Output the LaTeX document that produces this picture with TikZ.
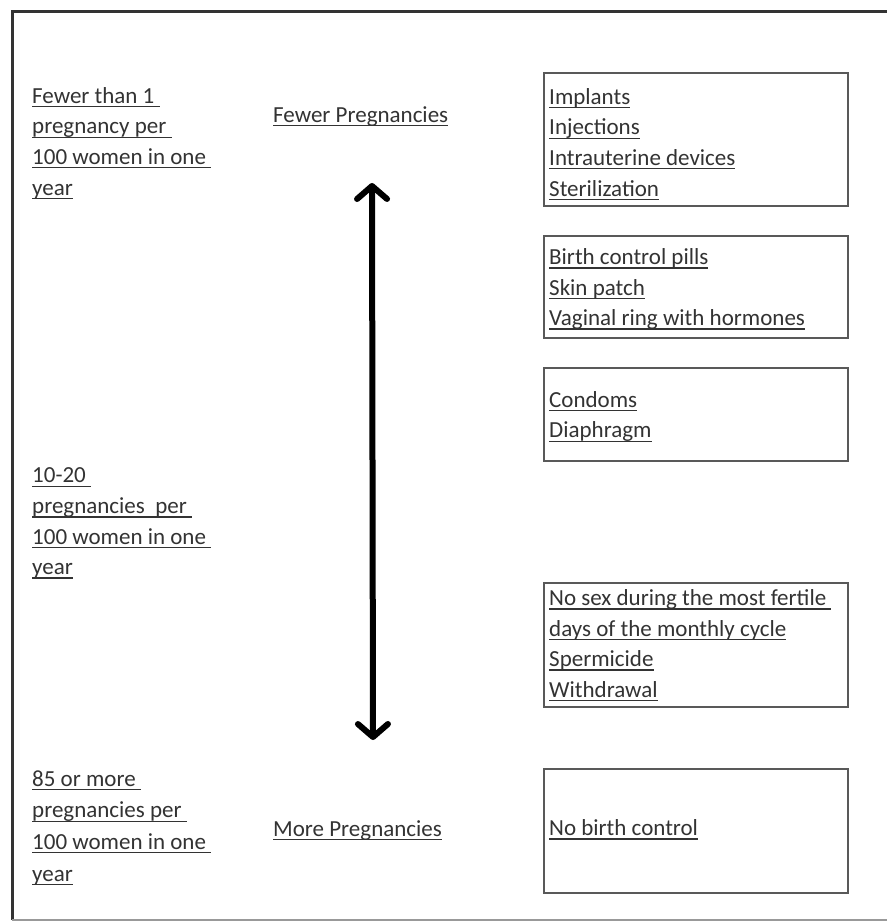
\documentclass[tikz,border=0pt]{standalone}
\usepackage{fontspec}
\setmainfont{Carlito}
\usetikzlibrary{arrows.meta}
\definecolor{txtgray}{gray}{0.2}
\definecolor{boxgray}{gray}{0.35}
\newcommand{\ulx}[1]{\setbox0=\hbox{#1}\rlap{\rule[-4pt]{\wd0}{1.3pt}}\box0}
\tikzset{
  txt/.style={anchor=north west, inner sep=0pt, align=left, text=txtgray,
    font=\fontsize{23}{30.6}\selectfont},
  methodbox/.style={draw=boxgray, line width=2pt, rectangle, inner sep=0pt},
}
\begin{document}
\begin{tikzpicture}[x=1pt,y=-1pt]
\useasboundingbox (0,0) rectangle (887,922);
\fill[white] (0,0) rectangle (887,922);
% outer frame
\draw[line width=3pt, black!80] (887,11.5) -- (12,11.5) -- (12,920);
\draw[line width=1.5pt, black!40] (12,920) -- (887,920);

% left column
\node[txt] (L1) at (32,83) {\rule{0pt}{20pt}\ulx{Fewer than 1\ }\\\ulx{pregnancy per\ }\\\ulx{100 women in one\ }\\\ulx{year}};
\node[txt] (L2) at (32,462.7) {\rule{0pt}{20pt}\ulx{10-20\ }\\\ulx{pregnancies\ \ per\ }\\\ulx{100 women in one\ }\\\ulx{year}};
\node[txt,font=\fontsize{23}{31.6}\selectfont] (L3) at (32,766) {\rule{0pt}{20pt}\ulx{85 or more\ }\\\ulx{pregnancies per\ }\\\ulx{100 women in one\ }\\\ulx{year}};

% middle labels
\node[txt] (FP) at (273,102) {\rule{0pt}{20pt}\ulx{Fewer Pregnancies}};
\node[txt] (MP) at (273,816) {\rule{0pt}{20pt}\ulx{More Pregnancies}};

% arrow
\coordinate (aT) at (372,183);
\coordinate (aB) at (373,740);
\draw[line width=6pt, black, {Straight Barb[length=13pt,width=30pt,round]}-{Straight Barb[length=13pt,width=30pt,round]}] (aT) -- (aB);

% right boxes
\node[methodbox, minimum width=304pt, minimum height=132.4pt] (B1) at (695.5,139.5) {};
\node[methodbox, minimum width=304pt, minimum height=102pt] (B2) at (695.5,286.7) {};
\node[methodbox, minimum width=304pt, minimum height=92.7pt] (B3) at (695.5,414.65) {};
\node[methodbox, minimum width=304pt, minimum height=123.4pt] (B4) at (695.5,645) {};
\node[methodbox, minimum width=304pt, minimum height=123.4pt] (B5) at (695.5,831) {};

\node[txt] (T1) at (549,84) {\rule{0pt}{20pt}\ulx{Implants}\\\ulx{Injections}\\\ulx{Intrauterine devices}\\\ulx{Sterilization}};
\node[txt] (T2) at (549,244.3) {\rule{0pt}{20pt}\ulx{Birth control pills}\\\ulx{Skin patch}\\\ulx{Vaginal ring with hormones}};
\node[txt] (T3) at (549,387) {\rule{0pt}{20pt}\ulx{Condoms}\\\ulx{Diaphragm}};
\node[txt] (T4) at (549,585.3) {\rule{0pt}{20pt}\ulx{No sex during the most fertile\ }\\\ulx{days of the monthly cycle}\\\ulx{Spermicide}\\\ulx{Withdrawal}};
\node[txt] (T5) at (549,815.3) {\rule{0pt}{20pt}\ulx{No birth control}};
\end{tikzpicture}
\end{document}
